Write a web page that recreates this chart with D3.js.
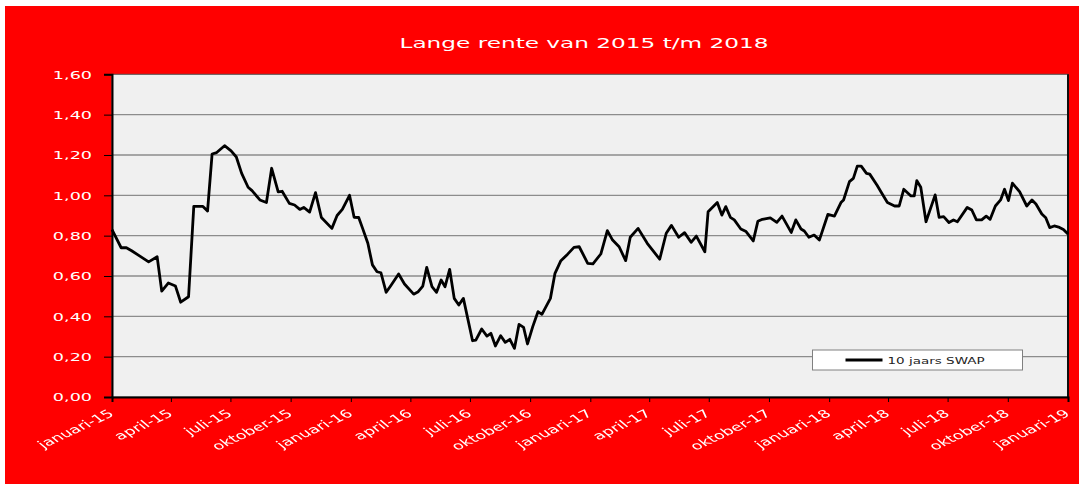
<!DOCTYPE html>
<html>
<head>
<meta charset="utf-8">
<script src="https://cdn.jsdelivr.net/npm/d3@7"></script>
<style>
  body { margin: 0; background: #fff; }
  svg { display: block; }
  text { font-family: "DejaVu Sans", Verdana, sans-serif; }
</style>
</head>
<body>
<svg id="chart" width="1084" height="484"></svg>
<script>
// 10-year swap rate (%), 2015 through 2018
const dates = [
  "2015-01-01","2015-01-15","2015-01-23","2015-01-31","2015-02-12","2015-02-26","2015-03-11","2015-03-18",
  "2015-03-28","2015-04-08","2015-04-16","2015-04-28","2015-05-06","2015-05-20","2015-05-27","2015-06-03",
  "2015-06-10","2015-06-22","2015-07-02","2015-07-10","2015-07-18","2015-07-28","2015-08-03","2015-08-15",
  "2015-08-25","2015-09-02","2015-09-12","2015-09-18","2015-09-29","2015-10-07","2015-10-15","2015-10-21",
  "2015-10-30","2015-11-08","2015-11-17","2015-12-03","2015-12-11","2015-12-19","2015-12-30",
  "2016-01-06","2016-01-13","2016-01-19","2016-01-27","2016-02-03","2016-02-10","2016-02-16","2016-02-24",
  "2016-03-02","2016-03-14","2016-03-23","2016-04-06","2016-04-13","2016-04-20","2016-04-26","2016-05-04",
  "2016-05-11","2016-05-18","2016-05-24","2016-05-31","2016-06-07","2016-06-14","2016-06-21","2016-07-05",
  "2016-07-10","2016-07-19","2016-07-27","2016-08-02","2016-08-09","2016-08-17","2016-08-24","2016-08-31",
  "2016-09-07","2016-09-14","2016-09-21","2016-09-27","2016-10-05","2016-10-13","2016-10-19","2016-11-01",
  "2016-11-08","2016-11-17","2016-11-27","2016-12-07","2016-12-15","2016-12-28",
  "2017-01-05","2017-01-17","2017-01-27","2017-02-04","2017-02-14","2017-02-24","2017-03-03","2017-03-15",
  "2017-03-29","2017-04-17","2017-04-27","2017-05-05","2017-05-16","2017-05-25","2017-06-04","2017-06-12",
  "2017-06-25","2017-06-30","2017-07-14","2017-07-21","2017-07-27","2017-08-03","2017-08-09","2017-08-19",
  "2017-08-27","2017-09-07","2017-09-14","2017-09-21","2017-10-03","2017-10-13","2017-10-21","2017-11-04",
  "2017-11-11","2017-11-19","2017-11-24","2017-12-01","2017-12-09","2017-12-17","2017-12-30",
  "2018-01-09","2018-01-19","2018-01-23","2018-02-01","2018-02-07","2018-02-13","2018-02-19","2018-02-27",
  "2018-03-04","2018-03-15","2018-03-22","2018-03-31","2018-04-11","2018-04-18","2018-04-25","2018-05-06",
  "2018-05-11","2018-05-15","2018-05-21","2018-05-29","2018-06-12","2018-06-18","2018-06-25","2018-07-03",
  "2018-07-10","2018-07-16","2018-07-31","2018-08-07","2018-08-14","2018-08-22","2018-08-29","2018-09-04",
  "2018-09-12","2018-09-20","2018-09-26","2018-10-02","2018-10-08","2018-10-19","2018-10-30","2018-11-07",
  "2018-11-13","2018-11-22","2018-11-28","2018-12-04","2018-12-11","2018-12-19","2018-12-25","2019-01-01"
];
const rates = [
  0.83,0.74,0.74,0.725,0.70,0.67,0.695,0.525,
  0.565,0.55,0.47,0.497,0.945,0.945,0.922,1.205,
  1.212,1.246,1.22,1.19,1.11,1.04,1.023,0.977,
  0.964,1.134,1.017,1.02,0.96,0.952,0.93,0.94,
  0.917,1.013,0.89,0.836,0.90,0.93,1.00,
  0.891,0.89,0.836,0.762,0.655,0.621,0.616,0.519,
  0.552,0.61,0.56,0.51,0.522,0.55,0.643,0.547,
  0.519,0.58,0.547,0.633,0.489,0.456,0.489,0.279,
  0.282,0.337,0.302,0.316,0.253,0.304,0.271,0.286,
  0.241,0.36,0.345,0.263,0.349,0.423,0.41,0.489,
  0.613,0.676,0.707,0.742,0.745,0.663,
  0.66,0.709,0.825,0.778,0.745,0.676,0.792,0.836,
  0.762,0.683,0.812,0.851,0.792,0.815,0.767,0.798,
  0.72,0.919,0.964,0.902,0.944,0.891,0.878,0.833,
  0.82,0.774,0.871,0.881,0.888,0.866,0.897,0.816,
  0.878,0.833,0.823,0.792,0.803,0.778,0.905,
  0.897,0.964,0.977,1.068,1.084,1.145,1.145,1.109,
  1.105,1.051,1.013,0.964,0.947,0.947,1.03,0.997,
  0.997,1.073,1.04,0.869,1.002,0.891,0.894,0.865,
  0.878,0.869,0.94,0.927,0.878,0.878,0.897,0.881,
  0.947,0.977,1.03,0.974,1.06,1.018,0.947,0.977,
  0.957,0.907,0.889,0.84,0.848,0.841,0.831,0.808
];
const seriesName = "10 jaars SWAP";
const chartTitle = "Lange rente van 2015 t/m 2018";
const yTicks = [0, 0.2, 0.4, 0.6, 0.8, 1.0, 1.2, 1.4, 1.6];
const xTickDates = [
  "2015-01-01","2015-04-01","2015-07-01","2015-10-01",
  "2016-01-01","2016-04-01","2016-07-01","2016-10-01",
  "2017-01-01","2017-04-01","2017-07-01","2017-10-01",
  "2018-01-01","2018-04-01","2018-07-01","2018-10-01",
  "2019-01-01"
];
const monthNames = ["januari","februari","maart","april","mei","juni",
  "juli","augustus","september","oktober","november","december"];

const parse = d3.utcParse("%Y-%m-%d");
const data = dates.map((d, i) => ({ date: parse(d), value: rates[i] }));

const svg = d3.select("#chart");
const W = 1084, H = 484;
const plot = { left: 112, right: 1068, top: 74.3, bottom: 397 };
const stretch = 1.6; // wide lettering

// recolour filter: keeps glyph coverage, paints it white
const defs = svg.append("defs");
const whiten = defs.append("filter")
  .attr("id", "whiten")
  .attr("filterUnits", "userSpaceOnUse")
  .attr("x", 0).attr("y", 380).attr("width", W).attr("height", 104);
whiten.append("feColorMatrix")
  .attr("type", "matrix")
  .attr("values", "0 0 0 0 1  0 0 0 0 1  0 0 0 0 1  0 0 0 1 0");

// red card behind everything
svg.append("rect")
  .attr("x", 5).attr("y", 6)
  .attr("width", 1074).attr("height", H - 6)
  .attr("fill", "#ff0000");

const x = d3.scaleUtc()
  .domain([parse("2015-01-01"), parse("2019-01-01")])
  .range([plot.left, plot.right]);
const y = d3.scaleLinear()
  .domain([0, 1.6])
  .range([plot.bottom, plot.top]);

// plot area
svg.append("rect")
  .attr("x", plot.left).attr("y", plot.top)
  .attr("width", plot.right - plot.left).attr("height", plot.bottom - plot.top)
  .attr("fill", "#f0f0f0")
  .attr("stroke", "#555").attr("stroke-width", 1);

// horizontal gridlines
svg.append("g")
  .selectAll("line")
  .data(yTicks.filter(v => v > 0 && v < 1.6))
  .join("line")
  .attr("x1", plot.left).attr("x2", plot.right)
  .attr("y1", d => y(d)).attr("y2", d => y(d))
  .attr("stroke", "#8c8c8c").attr("stroke-width", 1.3);

// right border
svg.append("line")
  .attr("x1", plot.right).attr("x2", plot.right)
  .attr("y1", plot.top).attr("y2", plot.bottom)
  .attr("stroke", "#111").attr("stroke-width", 2);

// y axis
const yAxis = svg.append("g")
  .attr("transform", `translate(${plot.left},0)`)
  .call(d3.axisLeft(y).tickValues(yTicks).tickSize(8)
    .tickFormat(d => d.toFixed(2).replace(".", ",")));
yAxis.attr("font-family", null).attr("font-size", null);
yAxis.select(".domain").attr("stroke", "#000").attr("stroke-width", 2);
yAxis.selectAll(".tick line").attr("stroke", "#000").attr("stroke-width", 1);
yAxis.selectAll(".tick text")
  .attr("x", null).attr("dy", null)
  .attr("transform", `translate(-20,3.8) scale(${stretch},1)`)
  .attr("text-anchor", "end")
  .attr("font-size", 11)
  .style("fill", "#ffffff");

// x axis: ticks from d3, slanted wide labels drawn on their own
const fmt = d => `${monthNames[d.getUTCMonth()]}-${String(d.getUTCFullYear()).slice(2)}`;
const xAxis = svg.append("g")
  .attr("transform", `translate(0,${plot.bottom})`)
  .call(d3.axisBottom(x).tickValues(xTickDates.map(parse)).tickSize(5).tickFormat(""));
xAxis.select(".domain").attr("stroke", "#000").attr("stroke-width", 2);
xAxis.selectAll(".tick line").attr("stroke", "#000").attr("stroke-width", 1);

const ang = 37 * Math.PI / 180;
const ca = Math.cos(ang), sa = Math.sin(ang);
svg.append("g")
  .attr("filter", "url(#whiten)")
  .selectAll("text")
  .data(xTickDates.map(parse))
  .join("text")
  .attr("transform", d =>
    `matrix(${stretch * ca},${-sa},${stretch * sa},${ca},${x(d) + 3},${plot.bottom + 18})`)
  .attr("text-anchor", "end")
  .attr("font-size", 11)
  .attr("fill", "#ffffff")
  .text(fmt);

// series line
const line = d3.line()
  .x(d => x(d.date))
  .y(d => y(d.value));
svg.append("path")
  .datum(data)
  .attr("d", line)
  .attr("fill", "none")
  .attr("stroke", "#000")
  .attr("stroke-width", 2.8)
  .attr("stroke-linejoin", "round");

// title
svg.append("text")
  .attr("transform", `translate(584,48) scale(${stretch},1)`)
  .attr("text-anchor", "middle")
  .attr("font-size", 14.5)
  .attr("fill", "#ffffff")
  .text(chartTitle);

// legend
const lg = svg.append("g").attr("transform", "translate(812.5,350)");
lg.append("rect")
  .attr("width", 210).attr("height", 20)
  .attr("fill", "#fff").attr("stroke", "#808080").attr("stroke-width", 1);
lg.append("line")
  .attr("x1", 33).attr("x2", 70).attr("y1", 10).attr("y2", 10)
  .attr("stroke", "#000").attr("stroke-width", 2.8);
lg.append("text")
  .attr("transform", `translate(75,13.5) scale(1.5,1)`)
  .attr("fill", "#222")
  .attr("font-size", 9)
  .text(seriesName);
</script>
</body>
</html>
